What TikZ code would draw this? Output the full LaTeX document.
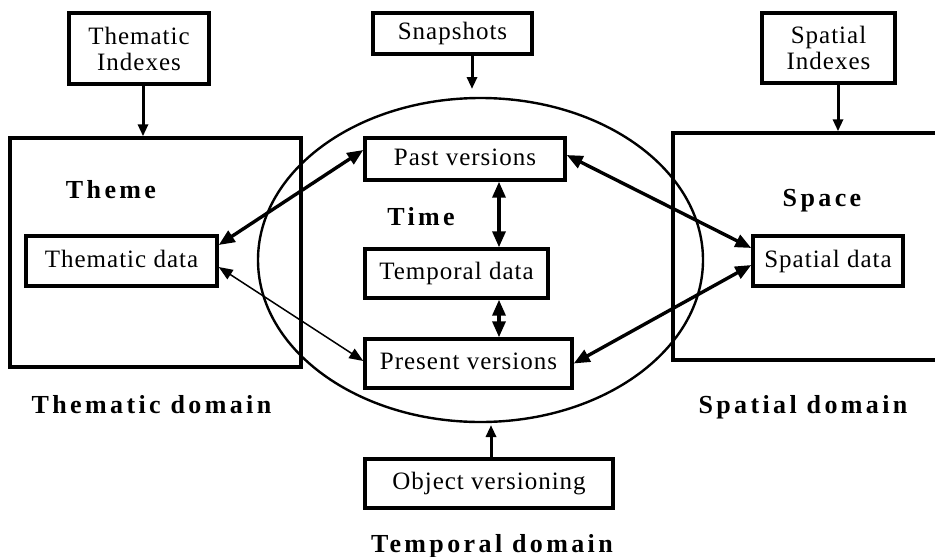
\documentclass[tikz,border=0pt]{standalone}
\usepackage{fontspec}
\setmainfont{Liberation Serif}
\newfontfamily\bodyfont{Liberation Serif}[LetterSpace=4]
\newfontfamily\headfont{Liberation Serif}[LetterSpace=13]
\usetikzlibrary{arrows.meta,shapes.geometric}

\tikzset{
  box/.style={draw, line width=3.4pt, inner sep=0pt, align=center,
    font=\bodyfont\fontsize{25}{26}\selectfont},
  onebox/.style={box, text height=17pt, text depth=5pt},
  heading/.style={anchor=base, inner sep=0pt,
    font=\headfont\bfseries\fontsize{26}{30}\selectfont},
  bigtip/.tip={Triangle[length=16pt,width=13pt]},
  thintip/.tip={Triangle[length=14pt,width=11pt]},
  smalltip/.tip={Triangle[length=12pt,width=10pt]},
  both/.style={line width=3.4pt, bigtip-bigtip},
  thinboth/.style={line width=1.5pt, thintip-thintip},
  feed/.style={line width=3pt, -smalltip},
}

\begin{document}
\begin{tikzpicture}[x=1pt,y=-1pt]
\useasboundingbox (0,0) rectangle (935,557);

% temporal domain
\node[ellipse, draw, line width=2.4pt, minimum width=445pt, minimum height=324pt, inner sep=0pt] (tdom) at (480.5,260) {};

% thematic side
\node[box, minimum width=140pt, minimum height=71pt] (ti) at (139,48.5) {Thematic\\Indexes};
\node[box, minimum width=291pt, minimum height=229pt] (theme) at (155.5,252.5) {};
\node[onebox, minimum width=191pt, minimum height=50pt] (td) at (121.5,261) {Thematic data};
\node[heading] (themelbl) at (111,198) {Theme};
\node[heading] (themedom) at (151.5,413) {Thematic domain};

% temporal side
\node[onebox, minimum width=159pt, minimum height=41pt] (snap) at (452.5,33.5) {Snapshots};
\node[onebox, minimum width=200pt, minimum height=42pt] (past) at (465,159) {Past versions};
\node[onebox, minimum width=183pt, minimum height=49pt] (temp) at (456.5,273.5) {Temporal data};
\node[onebox, minimum width=207pt, minimum height=49pt] (pres) at (468.5,363.5) {Present versions};
\node[onebox, minimum width=248pt, minimum height=49pt] (obj) at (489,483.5) {Object versioning};
\node[heading] (timelbl) at (421,225) {Time};
\node[heading] (tempdom) at (492,552) {Temporal domain};

% spatial side
\node[box, minimum width=133pt, minimum height=70pt] (si) at (828.5,48) {Spatial\\Indexes};
\begin{scope}
  \clip (0,0) rectangle (935,557);
  \node[box, minimum width=290pt, minimum height=227pt] (space) at (818,246.5) {};
\end{scope}
\node[onebox, minimum width=150pt, minimum height=50pt] (sd) at (828,261) {Spatial data};
\node[heading] (spacelbl) at (822,206) {Space};
\node[heading] (spacedom) at (803,413) {Spatial domain};

% free arrow ends at the ellipse
\coordinate (snaptip) at (472,89);
\coordinate (objtip) at (491,425);

% index and feed arrows
\draw[feed] ([xshift=4pt]ti.south) -- ([xshift=4pt]ti.south |- theme.north);
\draw[feed] ([xshift=9.5pt]si.south) -- ([xshift=9.5pt]si.south |- space.north);
\draw[feed] (snaptip |- snap.south) -- (snaptip);
\draw[feed] (objtip |- obj.north) -- (objtip);

% links inside the temporal domain
\draw[both] ([xshift=34pt]past.south) -- ([xshift=34pt]past.south |- temp.north);
\draw[both] ([xshift=42.5pt]temp.south) -- ([xshift=42.5pt]temp.south |- pres.north);

% links between domains
\draw[both] ([yshift=16pt]td.east) -- ([yshift=9pt]past.west);
\draw[thinboth] ([yshift=-6pt]td.east) -- ([yshift=2.5pt]pres.west);
\draw[both] ([yshift=4pt]past.east) -- ([yshift=13pt]sd.west);
\draw[both] (pres.east) -- ([yshift=-4pt]sd.west);
\end{tikzpicture}
\end{document}
